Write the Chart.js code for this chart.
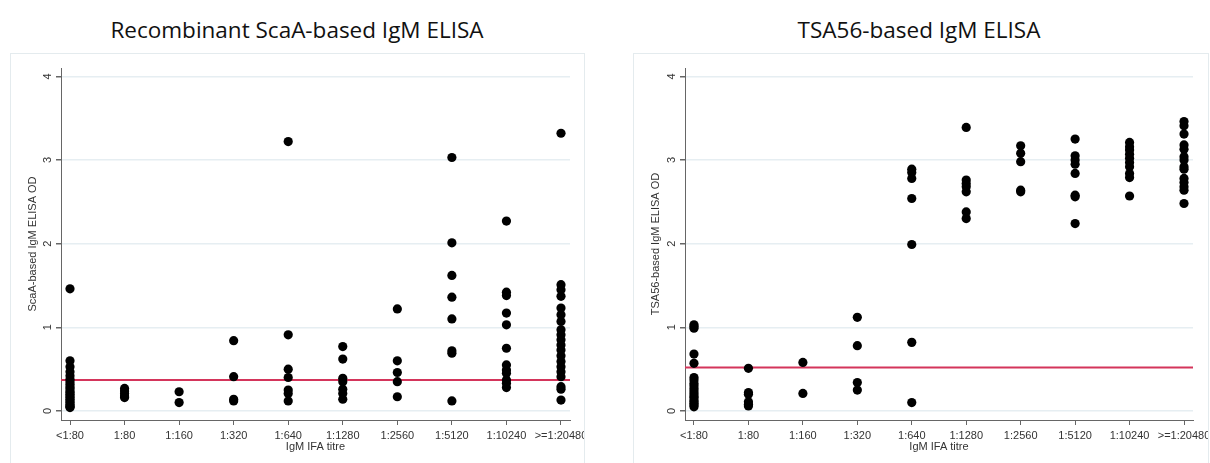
<!DOCTYPE html>
<html>
<head>
<meta charset="utf-8">
<script src="https://cdn.jsdelivr.net/npm/chart.js@4.4.0/dist/chart.umd.min.js"></script>
<style>
  body { margin: 0; background: #fff; width: 1210px; height: 463px; overflow: hidden; position: relative; }
  .ttl { position: absolute; top: 14px; width: 500px; font-family: "Open Sans", sans-serif; font-size: 22.5px; color: #111; text-align: center; white-space: nowrap; }
  .box { position: absolute; top: 53px; height: 420px; border: 1.5px solid #e4ebee; box-sizing: border-box; }
  .wrap { position: absolute; top: 53px; height: 410px; }
</style>
</head>
<body>
<div class="ttl" style="left:47px">Recombinant ScaA-based IgM ELISA</div>
<div class="ttl" style="left:669px">TSA56-based IgM ELISA</div>
<div class="box" style="left:10px;width:575px"></div>
<div class="box" style="left:633px;width:576px"></div>
<div class="wrap" style="left:10px;width:574px"><canvas id="scaa"></canvas></div>
<div class="wrap" style="left:633px;width:575px"><canvas id="tsa"></canvas></div>

<script>
// IFA titre categories
const titres = ['<1:80', '1:80', '1:160', '1:320', '1:640', '1:1280', '1:2560', '1:5120', '1:10240', '>=1:20480'];
const odTicks = [0, 1, 2, 3, 4];

// ScaA-based IgM ELISA OD, one list per titre
const scaaOD = [
  [1.46, 0.60, 0.53, 0.47, 0.42, 0.38, 0.35, 0.32, 0.29, 0.27, 0.24, 0.22, 0.20, 0.18, 0.16, 0.14, 0.12, 0.10, 0.08, 0.06, 0.05, 0.04],
  [0.27, 0.24, 0.21, 0.18, 0.16],
  [0.23, 0.10],
  [0.84, 0.41, 0.14, 0.12],
  [3.22, 0.91, 0.50, 0.40, 0.25, 0.21, 0.12],
  [0.77, 0.62, 0.39, 0.35, 0.26, 0.21, 0.14],
  [1.22, 0.60, 0.46, 0.35, 0.17],
  [3.03, 2.01, 1.62, 1.36, 1.10, 0.72, 0.69, 0.12],
  [2.27, 1.42, 1.38, 1.17, 1.03, 0.75, 0.55, 0.49, 0.45, 0.37, 0.33, 0.28],
  [3.32, 1.51, 1.45, 1.37, 1.23, 1.15, 1.07, 0.97, 0.91, 0.85, 0.79, 0.73, 0.66, 0.59, 0.53, 0.47, 0.41, 0.29, 0.26, 0.13]
];

// TSA56-based IgM ELISA OD
const tsaOD = [
  [1.03, 1.01, 0.99, 0.68, 0.57, 0.40, 0.37, 0.33, 0.30, 0.27, 0.24, 0.21, 0.18, 0.16, 0.13, 0.11, 0.09, 0.07, 0.05],
  [0.51, 0.22, 0.20, 0.11, 0.08, 0.06],
  [0.58, 0.21],
  [1.12, 0.78, 0.34, 0.25],
  [2.89, 2.85, 2.78, 2.54, 1.99, 0.82, 0.10],
  [3.39, 2.76, 2.72, 2.68, 2.62, 2.38, 2.30],
  [3.17, 3.08, 2.98, 2.64, 2.62],
  [3.25, 3.05, 3.00, 2.95, 2.84, 2.58, 2.56, 2.24],
  [3.21, 3.16, 3.12, 3.07, 3.02, 2.97, 2.92, 2.84, 2.79, 2.57],
  [3.46, 3.41, 3.31, 3.18, 3.13, 3.04, 3.00, 2.92, 2.89, 2.78, 2.73, 2.68, 2.64, 2.48]
];

// cut-off OD lines
const scaaCutoff = 0.37;
const tsaCutoff = 0.52;

const X_MIN = -0.165, X_MAX = titres.length - 1 + 0.165;
const tickFont = { family: '"Liberation Sans", Arial, sans-serif', size: 11 };

function makeChart(id, values, cutoff, yTitle, yWidth, padRight) {
  const pts = values.flatMap((col, i) => col.map(v => ({ x: i, y: v })));
  return new Chart(document.getElementById(id), {
    type: 'scatter',
    data: {
      datasets: [
        { data: pts, backgroundColor: '#000', borderWidth: 0, pointRadius: 4.6, pointHoverRadius: 4.6 },
        { type: 'line', data: [{ x: X_MIN, y: cutoff }, { x: X_MAX, y: cutoff }],
          borderColor: '#d4355b', borderWidth: 2, pointRadius: 0, fill: false }
      ]
    },
    options: {
      responsive: true, maintainAspectRatio: false, animation: false,
      layout: { padding: { left: 0, right: padRight, top: 15, bottom: 0 } },
      plugins: { legend: { display: false }, tooltip: { enabled: false } },
      scales: {
        x: {
          type: 'linear', min: X_MIN, max: X_MAX,
          afterBuildTicks: s => { s.ticks = titres.map((_, i) => ({ value: i })); },
          // fixed height, and no extra room for the last label (it runs off the edge like the original)
          afterFit: s => { s.height = 43; s.paddingLeft = 0; s.paddingRight = 0; },
          grid: { color: 'rgba(0,0,0,0)', tickColor: '#666', tickLength: 5, drawOnChartArea: false },
          border: { color: '#666', width: 1 },
          ticks: { callback: v => titres[v], color: '#333', font: tickFont, padding: 4, maxRotation: 0, autoSkip: false },
          title: { display: true, text: 'IgM IFA titre', color: '#333', font: tickFont, padding: { top: 0, bottom: 9 } }
        },
        y: {
          min: -0.108, max: 4.1,
          afterBuildTicks: s => { s.ticks = odTicks.map(v => ({ value: v })); },
          afterFit: s => { s.width = yWidth; s.paddingTop = 0; s.paddingBottom = 0; },
          grid: { color: '#e6eef2', lineWidth: 1.5, tickColor: '#666', tickLength: 5 },
          border: { color: '#666', width: 1 },
          ticks: { color: '#333', font: tickFont, minRotation: 90, maxRotation: 90, crossAlign: 'center', padding: 5 },
          title: { display: true, text: yTitle, color: '#333', font: tickFont, padding: { top: 16, bottom: 0 } }
        }
      }
    }
  });
}

makeChart('scaa', scaaOD, scaaCutoff, 'ScaA-based IgM ELISA OD', 51, 14);
makeChart('tsa', tsaOD, tsaCutoff, 'TSA56-based IgM ELISA OD', 52, 15);
</script>
</body>
</html>
